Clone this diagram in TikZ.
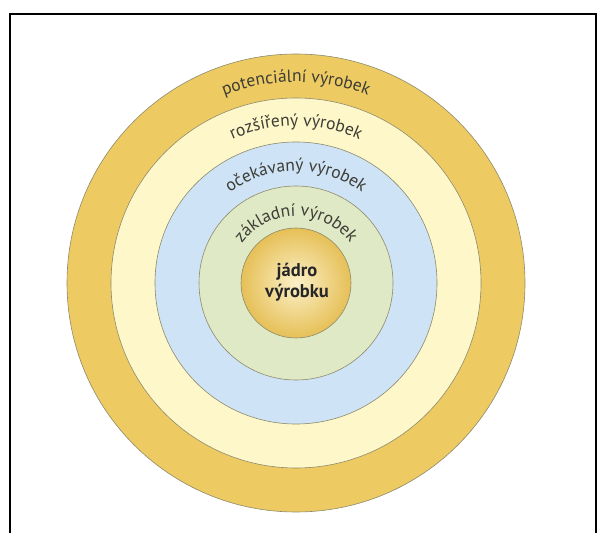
\documentclass[tikz,border=0pt]{standalone}
\usepackage{fontspec}
\setmainfont{PT Sans}
\usetikzlibrary{decorations.text}
\definecolor{ringgold}{HTML}{EDCB62}
\definecolor{ringcream}{HTML}{FDF7C9}
\definecolor{ringblue}{HTML}{CFE3F6}
\definecolor{ringgreen}{HTML}{DFE9C6}
\definecolor{corelight}{HTML}{FBF0C8}
\definecolor{coregold}{HTML}{E6C057}
\definecolor{ringline}{HTML}{8E8A6C}
\definecolor{labelgray}{HTML}{3E3D36}
\newcommand{\ringfont}{\fontsize{17.5}{20}\selectfont\color{labelgray}}
\begin{document}
\begin{tikzpicture}[x=1pt, y=1pt,
  ring/.style={draw=ringline, line width=0.6pt},
  ringtext/.style={decorate, decoration={text along path, text align=center}},
  corelabel/.style={align=center, text=black!85, font=\bfseries\fontsize{18.5}{21}\selectfont}]
\useasboundingbox (0,0) rectangle (599,533);
\coordinate (c) at (296,250);
%
\draw [line width=2pt] (10,0) -- (10,519) -- (596,519) -- (596,0);
%
\draw [ring, fill=ringgold]  (c) circle [radius=229];
\draw [ring, fill=ringcream] (c) circle [radius=185];
\draw [ring, fill=ringblue]  (c) circle [radius=141];
\draw [ring, fill=ringgreen] (c) circle [radius=97];
\shade [inner color=corelight, outer color=coregold] (c) circle [radius=55];
\draw [ring] (c) circle [radius=55];
%
\path [ringtext, decoration={text={|\ringfont|potenciální výrobek}}] ([shift={(170:201)}]c) arc [start angle=170, end angle=10, radius=201];
\path [ringtext, decoration={text={|\ringfont|rozšířený výrobek}}] ([shift={(170:157)}]c) arc [start angle=170, end angle=10, radius=157];
\path [ringtext, decoration={text={|\ringfont|očekávaný výrobek}}] ([shift={(170:112)}]c) arc [start angle=170, end angle=10, radius=112];
\path [ringtext, decoration={text={|\ringfont|základní výrobek}}] ([shift={(178:67)}]c) arc [start angle=178, end angle=2, radius=67];
%
\node [corelabel] (core) at (297,251) {jádro\\výrobku};
%%%%%%%%%%%%%%%%%%%%%%%%%%%%%%%
\end{tikzpicture}
\end{document}
